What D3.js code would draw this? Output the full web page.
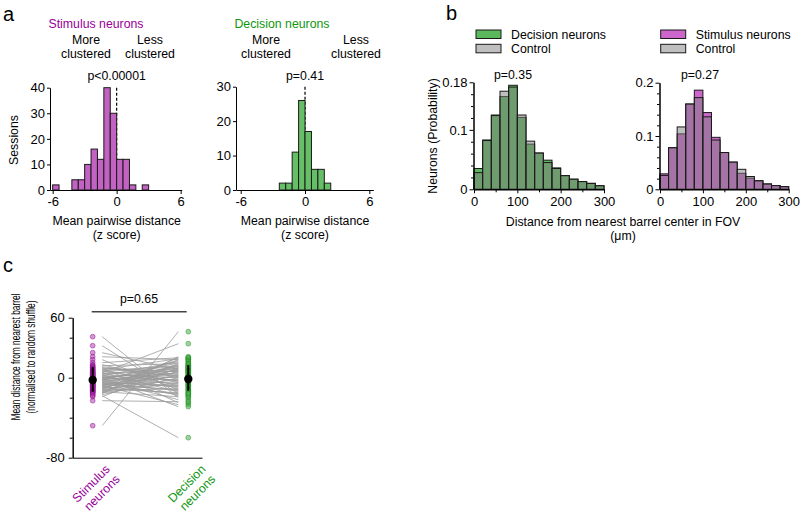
<!DOCTYPE html>
<html><head><meta charset="utf-8">
<script src="https://cdn.jsdelivr.net/npm/d3@7"></script>
<style>
body{margin:0;background:#fff}
svg text{font-family:"Liberation Sans",Arial,sans-serif;fill:#000}
</style>
</head><body>
<svg id="fig" width="800" height="517"></svg>
<script>
// ---------------- DATA ----------------
// Panel a: histograms of mean pairwise distance (z score), bin width 0.6
const zBinWidth = 0.6;
const stimBinStarts = [-6, -4.2, -3.6, -3.0, -2.4, -1.8, -1.2, -0.6, 0, 0.6, 1.2, 2.4];
const stimCounts    = [2, 4, 4, 10, 16, 12, 40, 30, 12, 12, 2, 2];
const decBinStarts  = [-2.4, -1.8, -1.2, -0.6, 0, 0.6, 1.2, 1.8];
const decCounts     = [2, 2, 11, 26, 17, 6, 6, 2];
const zTicks = [-6, 0, 6];
const pValuesA = ["p<0.00001", "p=0.41"];

// Panel b: distance from nearest barrel center (um), bin width 20
const distBinWidth = 20;
const distBinStarts = [0, 20, 40, 60, 80, 100, 120, 140, 160, 180, 200, 220, 240, 260, 280];
const decisionProb        = [0.035, 0.083, 0.125, 0.156, 0.175, 0.121, 0.076, 0.061, 0.049, 0.036, 0.023, 0.017, 0.013, 0.010, 0.006];
const decisionControlProb = [0.028, 0.082, 0.124, 0.165, 0.172, 0.125, 0.081, 0.061, 0.045, 0.035, 0.023, 0.017, 0.013, 0.010, 0.006];
const stimulusProb        = [0.029, 0.078, 0.104, 0.160, 0.186, 0.144, 0.0975, 0.069, 0.051, 0.030, 0.021, 0.016, 0.010, 0.007, 0.005];
const stimulusControlProb = [0.026, 0.078, 0.117, 0.160, 0.172, 0.136, 0.0925, 0.069, 0.051, 0.0375, 0.024, 0.016, 0.010, 0.007, 0.005];
const distTicks = [0, 100, 200, 300];
const pValuesB = ["p=0.35", "p=0.27"];

// Panel c: paired sessions, mean distance from nearest barrel (normalised)
const groupNames = ["Stimulus neurons", "Decision neurons"];
const pairedStim = [41, 32, 25, 21, 18, 15, 13, 12, 11, 10, 9, 8, 8, 7, 6, 5, 5, 4, 3, 3, 2, 1, 1, 0, 0, -1, -1, -2, -2, -3, -3, -4, -4, -5, -5, -6, -6, -7, -7, -8, -8, -9, -9, -10, -10, -11, -11, -12, -12, -13, -13, -14, -14, -15, -15, -16, -17, -18, -19, -23, -48, 2, -2, -5, 6, -7, 4, -9, 10, 0];
const pairedDec  = [-20, -16, 8, 18, -12, 20, -5, 14, 2, -25, 6, -8, 19, 12, -3, 34, -14, 9, 0, -18, 16, 4, -10, 7, -6, 11, -2, 15, -22, 3, 17, -9, 5, -13, 10, 1, -17, 13, -4, 8, -27, 2, 18, -7, 6, -15, 12, -1, 20, -11, 3, 14, -19, 9, -5, 21, 0, -60, 10, -24, 46, -3, 5, -8, 11, -12, 7, -16, 1, -29];
const groupMeans   = [-2.3, -1.3];
const groupErrHigh = [11, 12.5];
const groupErrLow  = [-14, -13];
const pValueC = "p=0.65";

// ---------------- DRAW ----------------
const svg = d3.select("#fig");
const FS = 12.3;      // labels
const TFS = 13;       // tick labels
const PURPLE_TXT = "#990099", GREEN_TXT = "#0f960f";

function styleAxis(g, fs) {
  g.selectAll("path,line").attr("stroke", "#000").attr("stroke-width", 1);
  g.selectAll("text").attr("font-size", fs || TFS).attr("fill", "#000")
   .attr("font-family", '"Liberation Sans",Arial,sans-serif');
}
function txt(x, y, s, opt = {}) {
  return svg.append("text").attr("x", x).attr("y", y).text(s)
    .attr("font-size", opt.fs || FS).attr("text-anchor", opt.anchor || "middle")
    .style("fill", opt.fill || "#000");
}

// Panel letters
txt(3, 21, "a", {fs: 20, anchor: "start"});
txt(446, 20, "b", {fs: 20, anchor: "start"});
txt(3, 272, "c", {fs: 20, anchor: "start"});

// ---- Panel a ----
function zHist(cfg) {
  const x = d3.scaleLinear().domain(cfg.xDomain).range(cfg.xRange);
  const y = d3.scaleLinear().domain([0, cfg.yMax]).range([190, cfg.yTop]);
  svg.append("line").attr("x1", x(0)).attr("x2", x(0)).attr("y1", cfg.yTop).attr("y2", 190)
    .attr("stroke", "#000").attr("stroke-width", 1.2).attr("stroke-dasharray", "3,2");
  svg.append("g").selectAll("rect").data(cfg.starts).join("rect")
    .attr("x", d => x(d)).attr("width", d => x(d + zBinWidth) - x(d))
    .attr("y", (d, i) => y(cfg.counts[i])).attr("height", (d, i) => 190 - y(cfg.counts[i]))
    .attr("fill", cfg.fill).attr("stroke", "#1a1a1a").attr("stroke-width", 1);
  const gx = svg.append("g").attr("transform", "translate(0,190)")
    .call(d3.axisBottom(x).tickValues(zTicks).tickSize(4).tickSizeOuter(0).tickFormat(d => String(d)));
  styleAxis(gx);
  const gy = svg.append("g").attr("transform", `translate(${cfg.xRange[0]},0)`)
    .call(d3.axisLeft(y).tickValues(cfg.yTicks).tickSize(3).tickPadding(2).tickSizeOuter(0));
  styleAxis(gy);
  txt(cfg.titleX, 28, cfg.title, {fill: cfg.titleFill});
  txt(cfg.moreX, 44, "More"); txt(cfg.moreX, 58, "clustered");
  txt(cfg.lessX, 44, "Less"); txt(cfg.lessX, 58, "clustered");
  txt(x(0), 80, cfg.p);
  txt(x(0), 225, "Mean pairwise distance");
  txt(x(0), 239, "(z score)");
}
zHist({xDomain: [-6.25, 6.1], xRange: [50, 181.7], yMax: 40, yTop: 87.7, yTicks: [0, 10, 20, 30, 40],
  starts: stimBinStarts, counts: stimCounts, fill: "#c262c2", title: groupNames[0], titleFill: PURPLE_TXT,
  titleX: 96, moreX: 86, lessX: 150, p: pValuesA[0]});
zHist({xDomain: [-6.44, 6.37], xRange: [236, 373.3], yMax: 30, yTop: 86.7, yTicks: [0, 10, 20, 30],
  starts: decBinStarts, counts: decCounts, fill: "#66bf66", title: groupNames[1], titleFill: GREEN_TXT,
  titleX: 282, moreX: 266, lessX: 356, p: pValuesA[1]});
svg.append("text").attr("transform", "translate(18,140) rotate(-90)").attr("text-anchor", "middle")
  .attr("font-size", FS).text("Sessions");

// ---- Panel b ----
function distHist(cfg) {
  const x = d3.scaleLinear().domain([0, 300]).range(cfg.xRange);
  const y = d3.scaleLinear().domain([0, cfg.yMax]).range([189.3, cfg.yTop]);
  const g = svg.append("g");
  g.selectAll("rect.s").data(distBinStarts).join("rect").attr("class", "s")
    .attr("x", d => x(d)).attr("width", d => x(d + distBinWidth) - x(d))
    .attr("y", (d, i) => y(cfg.series[i])).attr("height", (d, i) => y(0) - y(cfg.series[i]))
    .attr("fill", cfg.fill).attr("stroke", "#1a1a1a").attr("stroke-width", 1);
  g.selectAll("rect.c").data(distBinStarts).join("rect").attr("class", "c")
    .attr("x", d => x(d)).attr("width", d => x(d + distBinWidth) - x(d))
    .attr("y", (d, i) => y(cfg.control[i])).attr("height", (d, i) => y(0) - y(cfg.control[i]))
    .attr("fill", "#808080").attr("fill-opacity", 0.5).attr("stroke", "#1a1a1a").attr("stroke-width", 1);
  const gxm = svg.append("g").attr("transform", "translate(0,189.3)")
    .call(d3.axisBottom(x).tickValues([50, 150, 250]).tickSize(3).tickSizeOuter(0).tickFormat(""));
  styleAxis(gxm);
  const gx = svg.append("g").attr("transform", "translate(0,189.3)")
    .call(d3.axisBottom(x).tickValues(distTicks).tickSize(4).tickSizeOuter(0));
  styleAxis(gx);
  const gym = svg.append("g").attr("transform", `translate(${cfg.xRange[0] - 0.5},0)`)
    .call(d3.axisLeft(y).tickValues(cfg.minor).tickSize(2.5).tickSizeOuter(0).tickFormat(""));
  styleAxis(gym);
  const gy = svg.append("g").attr("transform", `translate(${cfg.xRange[0] - 0.5},0)`)
    .call(d3.axisLeft(y).tickValues(cfg.yTicks).tickSize(4).tickPadding(2).tickSizeOuter(0).tickFormat(d => String(d)));
  styleAxis(gy);
  txt(cfg.pX, 79, cfg.p);
  const lx = cfg.legX;
  svg.append("rect").attr("x", lx).attr("y", 30).attr("width", 25).attr("height", 8.5)
    .attr("fill", cfg.fill).attr("stroke", "#1a1a1a");
  svg.append("rect").attr("x", lx).attr("y", 44.3).attr("width", 25).attr("height", 8.5)
    .attr("fill", "#bfbfbf").attr("stroke", "#1a1a1a");
  txt(lx + 35, 38.5, cfg.label, {anchor: "start"});
  txt(lx + 35, 52.5, "Control", {anchor: "start"});
}
distHist({xRange: [474, 604], yMax: 0.18, yTop: 82.3, yTicks: [0, 0.1, 0.18],
  minor: [0.02, 0.04, 0.06, 0.08, 0.12, 0.14, 0.16],
  series: decisionProb, control: decisionControlProb, fill: "#5cb85c",
  label: groupNames[1], legX: 476, pX: 513, p: pValuesB[0]});
distHist({xRange: [660, 788.7], yMax: 0.2, yTop: 82.7, yTicks: [0, 0.1, 0.2],
  minor: [0.02, 0.04, 0.06, 0.08, 0.12, 0.14, 0.16, 0.18],
  series: stimulusProb, control: stimulusControlProb, fill: "#cc66cc",
  label: groupNames[0], legX: 660.7, pX: 700, p: pValuesB[1]});
svg.append("text").attr("transform", "translate(437,136) rotate(-90)").attr("text-anchor", "middle")
  .attr("font-size", FS).text("Neurons (Probability)");
txt(623, 226, "Distance from nearest barrel center in FOV");
txt(623, 240, "(μm)");

// ---- Panel c ----
const yc = d3.scaleLinear().domain([-80, 60]).range([457.7, 317.7]);
const xc = d3.scalePoint().domain(groupNames).range([92.7, 188.3]);
const xAxisC = d3.scaleLinear().domain([0, 1]).range([72.7, 202]);
const pairs = pairedStim.map((s, i) => [s, pairedDec[i]]);
svg.append("g").selectAll("line").data(pairs).join("line")
  .attr("x1", xc(groupNames[0]) + 9.5).attr("x2", xc(groupNames[1]) - 10)
  .attr("y1", d => yc(d[0])).attr("y2", d => yc(d[1]))
  .attr("stroke", "#9a9a9a").attr("stroke-width", 0.8);
const dotCols = [["#b040b0", "#8a008a"], ["#50b050", "#1a8a1a"]];
[pairedStim, pairedDec].forEach((vals, gi) => {
  svg.append("g").selectAll("circle").data(vals).join("circle")
    .attr("cx", xc(groupNames[gi])).attr("cy", d => yc(d)).attr("r", 2.4)
    .attr("fill", dotCols[gi][0]).attr("fill-opacity", 0.55)
    .attr("stroke", dotCols[gi][1]).attr("stroke-opacity", 0.6).attr("stroke-width", 0.8);
});
groupNames.forEach((g, i) => {
  svg.append("line").attr("x1", xc(g)).attr("x2", xc(g))
    .attr("y1", yc(groupErrHigh[i])).attr("y2", yc(groupErrLow[i]))
    .attr("stroke", "#000").attr("stroke-width", 2.2);
  svg.append("circle").attr("cx", xc(g)).attr("cy", yc(groupMeans[i])).attr("r", 4.2).attr("fill", "#000");
});
const gcm = svg.append("g").attr("transform", "translate(72.7,0)")
  .call(d3.axisLeft(yc).tickValues([40, 20, -20, -40, -60]).tickSize(3).tickSizeOuter(0).tickFormat(""));
styleAxis(gcm);
const gc = svg.append("g").attr("transform", "translate(72.7,0)")
  .call(d3.axisLeft(yc).tickValues([60, 0, -80]).tickSize(4).tickPadding(4).tickSizeOuter(0).tickFormat(d => String(d)));
styleAxis(gc);
const gcx = svg.append("g").attr("transform", "translate(0,457.7)")
  .call(d3.axisBottom(xAxisC).tickValues([]).tickSizeOuter(0));
styleAxis(gcx);
svg.append("line").attr("x1", 91.7).attr("x2", 186.7).attr("y1", 311.7).attr("y2", 311.7)
  .attr("stroke", "#444").attr("stroke-width", 1.6);
txt(139, 303, pValueC);
const yl = svg.append("g").attr("transform", "translate(0,357) rotate(-90)");
yl.append("text").attr("x", 0).attr("y", 19.5).attr("text-anchor", "middle").attr("font-size", 12.5)
  .attr("textLength", 127).attr("lengthAdjust", "spacingAndGlyphs").text("Mean distance from nearest barrel");
yl.append("text").attr("x", 0).attr("y", 34.5).attr("text-anchor", "middle").attr("font-size", 12.5)
  .attr("textLength", 113).attr("lengthAdjust", "spacingAndGlyphs").text("(normalised to random shuffle)");
const labCols = [PURPLE_TXT, GREEN_TXT];
groupNames.forEach((g, i) => {
  const parts = g.split(" ");
  const t = svg.append("g").attr("transform", `translate(${xc(g) + 18},470) rotate(-45)`);
  parts.forEach((p, k) => {
    t.append("text").attr("x", 0).attr("y", k * 14).attr("text-anchor", "end")
      .attr("font-size", FS).style("fill", labCols[i]).text(p);
  });
});
</script>
</body></html>
